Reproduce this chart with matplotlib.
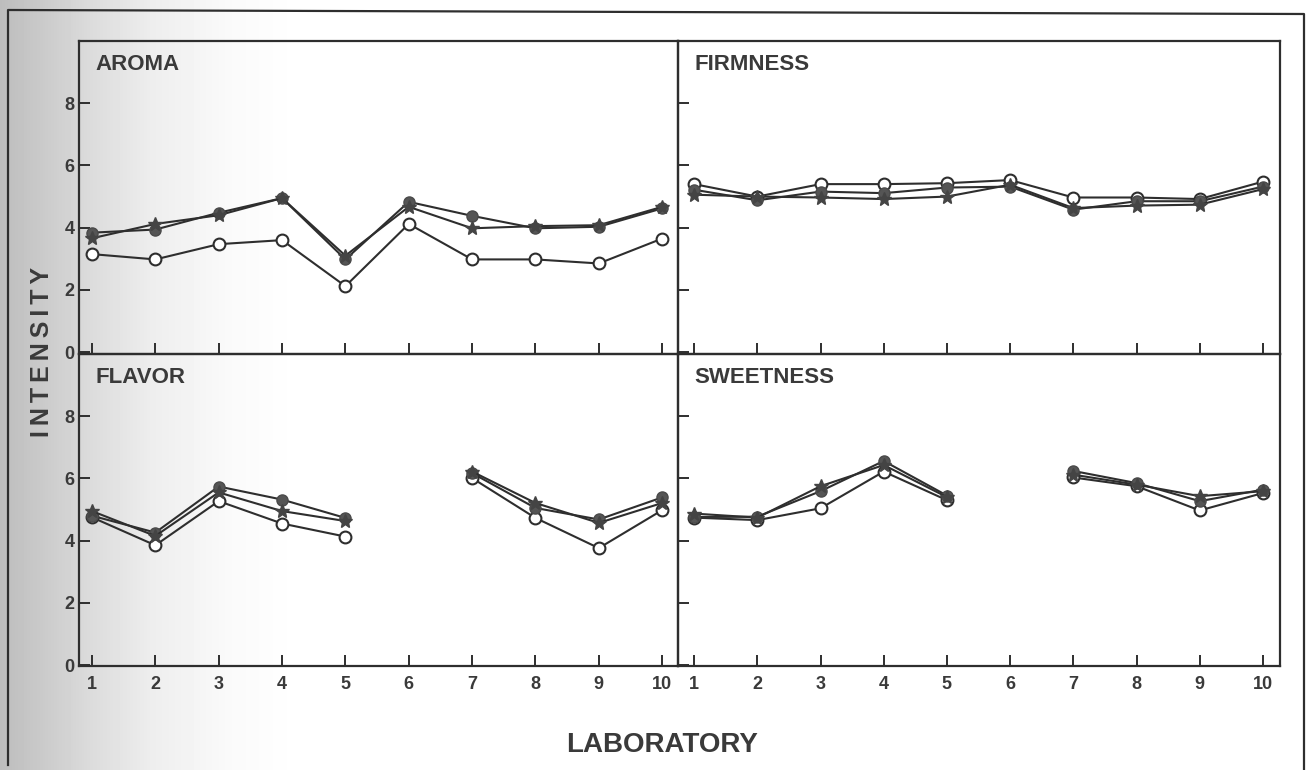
import numpy as np
import matplotlib.pyplot as plt

plt.rcParams['font.family'] = ['Liberation Sans', 'DejaVu Sans']

W, H = 1311, 770

labs = np.arange(1, 11)
nan = np.nan

# intensity per laboratory (lab 6 missing for flavor/sweetness)
aroma_open   = [3.15, 2.98, 3.47, 3.60, 2.12, 4.12, 2.98, 2.98, 2.85, 3.65]
aroma_filled = [3.84, 3.94, 4.48, 4.95, 2.98, 4.83, 4.38, 3.98, 4.03, 4.62]
aroma_star   = [3.66, 4.12, 4.40, 4.95, 3.10, 4.67, 3.98, 4.05, 4.08, 4.67]

firm_open   = [5.40, 5.00, 5.40, 5.40, 5.43, 5.53, 4.97, 4.97, 4.92, 5.48]
firm_filled = [5.22, 4.88, 5.16, 5.11, 5.29, 5.32, 4.58, 4.85, 4.85, 5.32]
firm_star   = [5.06, 5.00, 4.97, 4.92, 5.00, 5.38, 4.63, 4.71, 4.74, 5.24]

flav_open   = [4.75, 3.85, 5.27, 4.55, 4.13, nan, 6.01, 4.73, 3.76, 4.98]
flav_filled = [4.80, 4.26, 5.74, 5.32, 4.73, nan, 6.17, 5.05, 4.68, 5.39]
flav_star   = [4.95, 4.15, 5.55, 4.95, 4.63, nan, 6.22, 5.21, 4.57, 5.21]

sweet_open   = [4.74, 4.66, 5.04, 6.22, 5.30, nan, 6.03, 5.75, 4.97, 5.53]
sweet_filled = [4.76, 4.77, 5.59, 6.56, 5.45, nan, 6.24, 5.85, 5.27, 5.64]
sweet_star   = [4.87, 4.74, 5.75, 6.43, 5.40, nan, 6.12, 5.80, 5.43, 5.59]

yticks = [0, 2, 4, 6, 8]

ink = '#2e2e2e'
txt = '#3a3a3a'

fig = plt.figure(figsize=(W / 100, H / 100), dpi=100)

# scanned page shading on the left
bg = fig.add_axes([0, 0, 1, 1], zorder=-10)
px = np.arange(W)
shade = np.interp(px, [0, 40, 90, 150, 230, 300], [0.74, 0.79, 0.86, 0.93, 0.98, 1.0])
bg.imshow(np.tile(shade, (10, 1)), cmap='gray', vmin=0, vmax=1, aspect='auto',
          extent=[0, W, 0, H])
bg.set_xlim(0, W)
bg.set_ylim(0, H)
bg.axis('off')
# outer page frame
bg.plot([8, 8, 1304, 1304], [5, H - 10, H - 14, 0], color=ink, lw=1.6)


def px_box(x0, y0, x1, y1):
    return [x0 / W, 1 - y1 / H, (x1 - x0) / W, (y1 - y0) / H]


panels = [
    ('AROMA', px_box(79, 41, 678, 354), (0.795, 10.25), (-0.06, 10.0),
     aroma_open, aroma_filled, aroma_star, True, False),
    ('FIRMNESS', px_box(678, 41, 1280, 354), (0.745, 10.27), (-0.06, 10.0),
     firm_open, firm_filled, firm_star, False, False),
    ('FLAVOR', px_box(79, 354, 678, 666), (0.795, 10.25), (-0.03, 10.0),
     flav_open, flav_filled, flav_star, True, True),
    ('SWEETNESS', px_box(678, 354, 1280, 666), (0.745, 10.27), (-0.03, 10.0),
     sweet_open, sweet_filled, sweet_star, False, True),
]

for name, box, xl, yl, s_open, s_filled, s_star, ylab, xlab in panels:
    ax = fig.add_axes(box)
    ax.set_facecolor('none')
    ax.plot(labs, s_open, color=ink, lw=1.5, marker='o', ms=8.5,
            mfc='white', mec=ink, mew=1.5, zorder=3)
    ax.plot(labs, s_filled, color=ink, lw=1.5, marker='o', ms=8,
            mfc='#555555', mec='#4a4a4a', mew=1, zorder=4)
    ax.plot(labs, s_star, color=ink, lw=1.5, marker='*', ms=10,
            mfc='#444444', mec='#444444', zorder=5)
    ax.set_xlim(*xl)
    ax.set_ylim(*yl)
    ax.set_xticks(labs)
    ax.set_yticks(yticks)
    ax.tick_params(direction='in', length=8, width=1.4, color=ink,
                   labelsize=13, labelcolor=txt)
    ax.tick_params(axis='y', pad=3)
    ax.tick_params(axis='x', pad=7)
    if ylab:
        ax.set_yticklabels([str(t) for t in yticks], fontweight='bold')
    else:
        ax.set_yticklabels([])
    if xlab:
        ax.set_xticklabels([str(l) for l in labs], fontweight='bold')
    else:
        ax.set_xticklabels([])
    for s in ax.spines.values():
        s.set_color(ink)
        s.set_linewidth(1.6)
    ax.text(0.027, 0.925, name, transform=ax.transAxes, fontsize=16,
            fontweight='bold', color=txt, va='center', ha='left')

fig.text(42 / W, 1 - 352 / H, '\u2009'.join('INTENSITY'), rotation=90,
         fontsize=18, fontweight='bold', color=txt, ha='center', va='center')
fig.text(662 / W, 1 - 745 / H, 'LABORATORY', fontsize=20, fontweight='bold',
         color=txt, ha='center', va='center')

fig.savefig('out.png', dpi=100)
